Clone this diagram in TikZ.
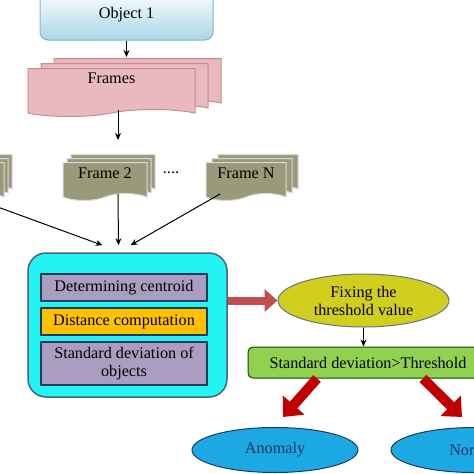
\documentclass[tikz,border=0pt]{standalone}
\usepackage{fontspec}
\setmainfont{Liberation Serif}
\usetikzlibrary{shapes.symbols,shapes.geometric,shadows,arrows.meta}
\definecolor{obj-blue}{HTML}{A9D6E4}
\definecolor{obj-edge}{HTML}{86B6C6}
\definecolor{frame-pink}{HTML}{E8BAC0}
\definecolor{frame-edge}{HTML}{C98A93}
\definecolor{frame-olive}{HTML}{9A9A7A}
\definecolor{proc-cyan}{HTML}{22F4F4}
\definecolor{step-purple}{HTML}{AA9DC0}
\definecolor{step-orange}{HTML}{FFC000}
\definecolor{thr-yellow}{HTML}{D2CE1E}
\definecolor{cmp-green}{HTML}{92D050}
\definecolor{out-blue}{HTML}{1CA8E2}
\definecolor{dark-blue}{HTML}{1F3A5C}
\definecolor{arrow-red}{HTML}{C0504D}
\definecolor{deep-red}{HTML}{C00000}

\tikzset{
  framepage/.style={tape, tape bend top=none, tape bend height=7pt, inner sep=0pt},
  stepbox/.style={draw=dark-blue, line width=1.2pt, fill=step-purple, minimum width=166pt, inner sep=0pt, align=center},
  outcome/.style={ellipse, draw=dark-blue, line width=1pt, fill=out-blue, text=dark-blue, minimum width=166pt, minimum height=45pt, inner sep=0pt},
  bigarrow/.style={line width=8pt, -{Triangle[length=13pt,width=22pt]}}
}

\begin{document}
\begin{tikzpicture}[x=1pt, y=-1pt, font=\fontsize{16.2}{18}\selectfont, ->, >={Stealth[length=7pt,width=6pt]}, line width=1pt]
        \useasboundingbox (0,0) rectangle (474,474);
        \clip (0,0) rectangle (474,474);

        \node[draw=obj-edge, rounded corners=8pt, top color=white, bottom color=obj-blue, minimum width=173pt, minimum height=50pt, inner sep=0pt] (obj) at (126.5,15) {Object 1};

        \node[framepage, draw=frame-edge, fill=frame-pink, minimum width=167pt, minimum height=48pt, text depth=22pt,
              double copy shadow={shadow xshift=13pt, shadow yshift=5pt}] (frames) at (111.5,89) {Frames};

        \node[framepage, draw=white!85!black, fill=frame-olive, minimum width=84pt, minimum height=38pt,
              double copy shadow={shadow xshift=4pt, shadow yshift=4pt}] (f1) at (-38,178) {};
        \node[framepage, draw=white!85!black, fill=frame-olive, minimum width=84pt, minimum height=38pt, text depth=9pt,
              double copy shadow={shadow xshift=4pt, shadow yshift=4pt}] (f2) at (105,178) {Frame 2};
        \node[inner sep=0pt] (dots) at (171,173) {....};
        \node[framepage, draw=white!85!black, fill=frame-olive, minimum width=80pt, minimum height=38pt, text depth=9pt,
              double copy shadow={shadow xshift=6pt, shadow yshift=4pt}] (fN) at (246,178) {Frame N};

        \node[draw=dark-blue!80, line width=1.5pt, fill=proc-cyan, rounded corners=18pt, minimum width=199pt, minimum height=144pt] (proc) at (127.5,325) {};
        \node[stepbox, minimum height=27pt] (p1) at (124,287.5) {Determining centroid};
        \node[stepbox, fill=step-orange, minimum height=27pt] (p2) at (124,321.5) {Distance computation};
        \node[stepbox, minimum height=43pt] (p3) at (124,363.5) {Standard deviation of\\objects};

        \node[ellipse, draw=dark-blue!70, line width=1pt, fill=thr-yellow, minimum width=171pt, minimum height=53pt, inner sep=0pt, align=center] (thr) at (363.5,300.5) {Fixing the\\threshold value};
        \node[draw=black!70!green, line width=1pt, fill=cmp-green, rounded corners=5pt, minimum width=240pt, minimum height=31pt, inner sep=0pt] (cmp) at (368,362.5) {Standard deviation>Threshold};

        \node[outcome] (anom) at (275,450) {Anomaly};
        \node[outcome] (norm) at (474,450) {Normal};

        \coordinate (split) at (118,140);

        \draw[shorten >=11pt] (obj.south) -- (obj.south |- frames.north);
        \draw (split |- frames.south) -- (split);
        \draw (f1.south) -- ([xshift=-25pt,yshift=7pt]proc.north);
        \draw ([xshift=13pt]f2.south) -- ([xshift=-9pt,yshift=7pt]proc.north);
        \draw ([xshift=-26pt]fN.south) -- ([xshift=3pt,yshift=7pt]proc.north);
        \draw[bigarrow, arrow-red] (proc.east |- thr) -- (thr.west);
        \draw (thr.south) -- (thr.south |- cmp.north);
        \draw[bigarrow, deep-red, line width=10pt, -{Triangle[length=16pt,width=28pt]}] ([xshift=-51pt]cmp.south) -- ([xshift=8pt,yshift=10pt]anom.north);
        \draw[bigarrow, deep-red, line width=10pt, -{Triangle[length=16pt,width=28pt]}] ([xshift=55pt]cmp.south) -- ([xshift=-12pt,yshift=10pt]norm.north);
      \end{tikzpicture}
\end{document}
